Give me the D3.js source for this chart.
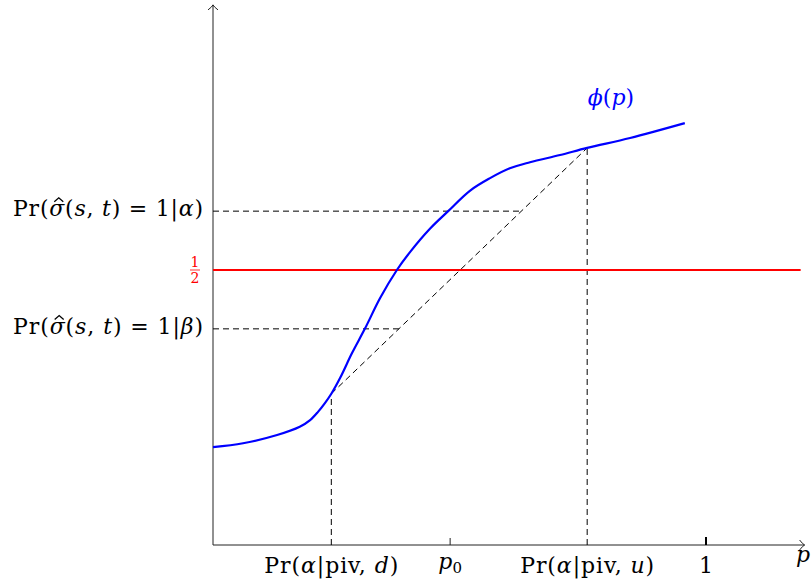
<!DOCTYPE html>
<html>
<head>
<meta charset="utf-8">
<script src="https://cdn.jsdelivr.net/npm/d3@7"></script>
<style>
  html, body { margin: 0; padding: 0; background: #fff; }
  svg text { font-family: "DejaVu Serif", "Liberation Serif", serif; }
</style>
</head>
<body>
<svg id="chart" width="811" height="583"></svg>
<script>
// phi(p): sampled points of the decision curve
const phiP = [0, 0.061, 0.130, 0.176, 0.197, 0.213, 0.227, 0.240, 0.258, 0.282, 0.308, 0.339, 0.373, 0.400, 0.440, 0.477, 0.521, 0.562, 0.602, 0.643, 0.704, 0.759, 0.846, 0.957];
const phiV = [0.178, 0.185, 0.200, 0.215, 0.227, 0.242, 0.258, 0.275, 0.304, 0.349, 0.393, 0.449, 0.500, 0.533, 0.575, 0.607, 0.644, 0.667, 0.685, 0.696, 0.709, 0.722, 0.740, 0.767];

// marked positions on the p axis
const pivD = 0.240;   // Pr(alpha | piv, d)
const pivU = 0.759;   // Pr(alpha | piv, u)
const p0 = 0.481;
const pOne = 1;

// marked levels on the vertical axis
const prAlpha = 0.607;
const prBeta = 0.393;
const half = 0.5;

const svg = d3.select("#chart");
const x = d3.scaleLinear().domain([0, 1]).range([213, 706]);
const y = d3.scaleLinear().domain([0, 1]).range([545, -5]);

const pts = phiP.map((p, i) => [p, phiV[i]]);
const phiAt = p => pts[phiP.indexOf(p)][1];

// axes
const axisColor = "#222";
svg.append("line").attr("x1", x(0)).attr("x2", x(1.2)).attr("y1", y(0)).attr("y2", y(0))
  .attr("stroke", axisColor).attr("stroke-width", 1);
svg.append("line").attr("x1", x(0)).attr("x2", x(0)).attr("y1", y(0)).attr("y2", y(0.982))
  .attr("stroke", axisColor).attr("stroke-width", 1);
// arrow heads
const xe = x(1.2), yb = y(0), ye = y(0.982), xa = x(0);
svg.append("path").attr("d", `M${xe-5},${yb-5} Q${xe-2},${yb-1} ${xe},${yb} Q${xe-2},${yb+1} ${xe-5},${yb+5}`)
  .attr("fill", "none").attr("stroke", axisColor).attr("stroke-width", 1);
svg.append("path").attr("d", `M${xa-5},${ye+5} Q${xa-1},${ye+2} ${xa},${ye} Q${xa+1},${ye+2} ${xa+5},${ye+5}`)
  .attr("fill", "none").attr("stroke", axisColor).attr("stroke-width", 1);

// ticks
svg.append("line").attr("x1", x(p0)).attr("x2", x(p0)).attr("y1", y(0)).attr("y2", y(0) - 7)
  .attr("stroke", axisColor).attr("stroke-width", 1);
svg.append("line").attr("x1", x(pOne)).attr("x2", x(pOne)).attr("y1", y(0)).attr("y2", y(0) - 8)
  .attr("stroke", "#000").attr("stroke-width", 2);

// dashed guides
const dash = "6,4";
const chord = d3.scaleLinear().domain([phiAt(pivD), phiAt(pivU)]).range([pivD, pivU]);
const guides = [
  [[pivD, 0], [pivD, phiAt(pivD)]],
  [[pivU, 0], [pivU, phiAt(pivU)]],
  [[pivD, phiAt(pivD)], [pivU, phiAt(pivU)]],
  [[0, prAlpha], [chord(prAlpha), prAlpha]],
  [[0, prBeta], [chord(prBeta), prBeta]]
];
const line = d3.line().x(d => x(d[0])).y(d => y(d[1]));
svg.selectAll("path.guide").data(guides).join("path").attr("class", "guide")
  .attr("d", line).attr("fill", "none").attr("stroke", "#000")
  .attr("stroke-width", 1).attr("stroke-dasharray", dash);

// the 1/2 level
svg.append("line").attr("x1", x(0)).attr("x2", x(1.192)).attr("y1", y(half)).attr("y2", y(half))
  .attr("stroke", "#ff0000").attr("stroke-width", 2);

// phi curve
svg.append("path").datum(pts)
  .attr("d", d3.line().x(d => x(d[0])).y(d => y(d[1])).curve(d3.curveCatmullRom.alpha(0.5)))
  .attr("fill", "none").attr("stroke", "#0000ff").attr("stroke-width", 2.2);

// labels
const fs = 22;
function mathLabel(parent, parts, attrs, width) {
  const t = parent.append("text");
  Object.entries(attrs).forEach(([k, v]) => t.attr(k, v));
  parts.forEach(([s, it]) => {
    t.append("tspan").text(s).attr("font-style", it ? "italic" : "normal")
      .classed("hatted", it === 2);
  });
  if (width) t.attr("textLength", width).attr("lengthAdjust", "spacing");
  return t;
}
// draw a circumflex accent over every hatted glyph
function addHats(t) {
  const base = +t.attr("y");
  t.selectAll("tspan.hatted").each(function () {
    const b = this.getExtentOfChar(0);
    const cx = b.x + b.width / 2 + 2;
    const top = base - fs * 0.56 - 2;
    svg.append("path")
      .attr("d", `M${cx - 4.5},${top} L${cx},${top - 4} L${cx + 4.5},${top}`)
      .attr("fill", "none").attr("stroke", t.attr("fill")).attr("stroke-width", 1.3);
  });
}
const la = mathLabel(svg, [["Pr(", 0], ["σ", 2], ["(", 0], ["s", 1], [", ", 0], ["t", 1], [") = 1|", 0], ["α", 1], [")", 0]],
  { x: 203, y: y(prAlpha) + 5, "text-anchor": "end", "font-size": fs, fill: "#000" }, 190);
const lb = mathLabel(svg, [["Pr(", 0], ["σ", 2], ["(", 0], ["s", 1], [", ", 0], ["t", 1], [") = 1|", 0], ["β", 1], [")", 0]],
  { x: 203, y: y(prBeta) + 5, "text-anchor": "end", "font-size": fs, fill: "#000" }, 190);
addHats(la);
addHats(lb);

// 1/2 fraction in red
const fr = svg.append("g").attr("fill", "#ff0000");
fr.append("text").attr("x", 195).attr("y", y(half) - 3).attr("text-anchor", "middle").attr("font-size", 14).text("1");
fr.append("line").attr("x1", 190).attr("x2", 200).attr("y1", y(half)).attr("y2", y(half)).attr("stroke", "#ff0000").attr("stroke-width", 0.8);
fr.append("text").attr("x", 195).attr("y", y(half) + 13).attr("text-anchor", "middle").attr("font-size", 14).text("2");

// p-axis labels
const by = 573;
mathLabel(svg, [["Pr(", 0], ["α", 1], ["|piv, ", 0], ["d", 1], [")", 0]],
  { x: x(pivD), y: by, "text-anchor": "middle", "font-size": fs, fill: "#000" }, 134);
mathLabel(svg, [["Pr(", 0], ["α", 1], ["|piv, ", 0], ["u", 1], [")", 0]],
  { x: x(pivU), y: by, "text-anchor": "middle", "font-size": fs, fill: "#000" }, 134);
const p0t = svg.append("text").attr("x", x(p0)).attr("y", by - 4).attr("text-anchor", "middle").attr("font-size", fs);
p0t.append("tspan").text("p").attr("font-style", "italic");
p0t.append("tspan").text("0").attr("font-size", 15).attr("dy", 4);
svg.append("text").attr("x", x(pOne)).attr("y", by).attr("text-anchor", "middle").attr("font-size", fs).text("1");
svg.append("text").attr("x", 803).attr("y", 562).attr("text-anchor", "middle").attr("font-size", fs)
  .attr("font-style", "italic").text("p");

// curve label
mathLabel(svg, [["ϕ", 1], ["(", 0], ["p", 1], [")", 0]],
  { x: 611, y: 105, "text-anchor": "middle", "font-size": fs, fill: "#0000ff" });
</script>
</body>
</html>
